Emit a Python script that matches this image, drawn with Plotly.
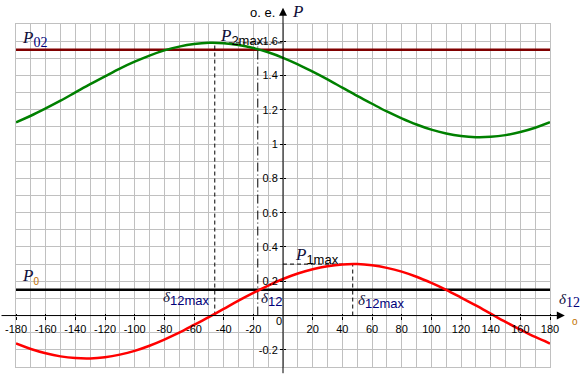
import plotly.graph_objects as go

# ---------------- data ----------------
delta = list(range(-180, 181, 10))
p1 = [-0.163, -0.195, -0.220, -0.238, -0.248, -0.250, -0.243, -0.228, -0.206, -0.176,
      -0.140, -0.100, -0.055, -0.009, 0.039, 0.087, 0.132, 0.175, 0.213, 0.245,
      0.270, 0.288, 0.298, 0.300, 0.293, 0.278, 0.256, 0.226, 0.190, 0.150,
      0.105, 0.059, 0.011, -0.037, -0.082, -0.125, -0.163]
p2 = [1.127, 1.165, 1.208, 1.253, 1.301, 1.349, 1.395, 1.440, 1.480, 1.516,
      1.546, 1.568, 1.583, 1.590, 1.588, 1.578, 1.560, 1.535, 1.503, 1.465,
      1.422, 1.377, 1.329, 1.281, 1.235, 1.190, 1.150, 1.114, 1.084, 1.062,
      1.047, 1.040, 1.042, 1.052, 1.070, 1.095, 1.127]
p0 = 0.15
p02 = 1.55
p1max = 0.30
d1max = 47
p2max = 1.59
d2max = -46
d12 = -17

x_ticks = [-180, -160, -140, -120, -100, -80, -60, -40, -20, 20, 40, 60, 80, 100, 120, 140, 160, 180]
x_tick_text = ["-180", "-160", "-140", "-120", "-100", "-80", "-60", "-40", "-20",
               "20", "40", "60", "80", "100", "120", "140", "160", "180"]
y_ticks = [-0.2, 0.2, 0.4, 0.6, 0.8, 1.0, 1.2, 1.4, 1.6]
y_tick_text = ["-0.2", "0.2", "0.4", "0.6", "0.8", "1", "1.2", "1.4", "1.6"]

X_RANGE = [-180, 180]
Y_RANGE = [-0.3, 1.7]

# ---------------- styling ----------------
W, H = 581, 375
ML, MR, MT, MB = 16, 31, 24, 8
SERIF = "Liberation Serif"
SANS = "Liberation Sans"
NAVY = "#10103a"
SUBBLUE = "#00007a"


def xp(v):
    return (v - X_RANGE[0]) / (X_RANGE[1] - X_RANGE[0])


def yp(v):
    return (v - Y_RANGE[0]) / (Y_RANGE[1] - Y_RANGE[0])


fig = go.Figure()

# horizontal levels
fig.add_trace(go.Scatter(x=X_RANGE, y=[p02, p02], mode="lines",
                         line=dict(color="#800000", width=2.5)))
fig.add_trace(go.Scatter(x=X_RANGE, y=[p0, p0], mode="lines",
                         line=dict(color="black", width=2.5)))

# dashed helper lines
dash = "4px,3px"
fig.add_trace(go.Scatter(x=[d2max, 0], y=[p2max, p2max], mode="lines",
                         line=dict(color="black", width=1, dash=dash)))
fig.add_trace(go.Scatter(x=[d2max, d2max], y=[0, p2max], mode="lines",
                         line=dict(color="black", width=1, dash=dash)))
fig.add_trace(go.Scatter(x=[0, d1max], y=[p1max, p1max], mode="lines",
                         line=dict(color="black", width=1, dash=dash)))
fig.add_trace(go.Scatter(x=[d1max, d1max], y=[0, p1max], mode="lines",
                         line=dict(color="black", width=1, dash=dash)))
fig.add_trace(go.Scatter(x=[d12, d12], y=[0, p2max], mode="lines",
                         line=dict(color="black", width=1, dash="9px,3px,1px,3px")))

# curves
fig.add_trace(go.Scatter(x=delta, y=p2, mode="lines",
                         line=dict(color="#008000", width=2.5, shape="spline")))
fig.add_trace(go.Scatter(x=delta, y=p1, mode="lines",
                         line=dict(color="#ff0000", width=2.5, shape="spline")))

# invisible carriers so the origin axes get drawn
fig.add_trace(go.Scatter(x=[0], y=[0], xaxis="x2", yaxis="y2", mode="markers",
                         marker=dict(opacity=0), showlegend=False))
fig.add_trace(go.Scatter(x=[0], y=[0], xaxis="x3", yaxis="y3", mode="markers",
                         marker=dict(opacity=0), showlegend=False))

grid = "#c0c0c0"
common = dict(showgrid=False, zeroline=False, showline=False, automargin=False,
              ticks="outside", ticklen=3, tickcolor="black", tickwidth=1)
fig.update_layout(
    width=W, height=H,
    margin=dict(l=ML, r=MR, t=MT, b=MB, pad=0),
    paper_bgcolor="white", plot_bgcolor="white",
    showlegend=False, hovermode=False,
    font=dict(family=SANS, size=11, color="black"),
    xaxis=dict(range=X_RANGE, dtick=10, tick0=0, showgrid=True, gridcolor=grid, gridwidth=1,
               zeroline=False, showticklabels=False, ticks="", automargin=False,
               showline=True, mirror=True, linecolor=grid, linewidth=1),
    yaxis=dict(range=Y_RANGE, dtick=0.1, tick0=0, showgrid=True, gridcolor=grid, gridwidth=1,
               zeroline=False, showticklabels=False, ticks="", automargin=False,
               showline=True, mirror=True, linecolor=grid, linewidth=1),
    xaxis2=dict(common, overlaying="x", anchor="free", position=yp(0), side="bottom",
                range=X_RANGE, tickmode="array", tickvals=x_ticks, ticktext=x_tick_text,
                tickfont=dict(family=SANS, size=11, color="black")),
    yaxis2=dict(common, overlaying="y", anchor="free", position=xp(0), side="left",
                range=Y_RANGE, tickmode="array", tickvals=y_ticks, ticktext=y_tick_text,
                tickfont=dict(family=SANS, size=11, color="black")),
    xaxis3=dict(common, overlaying="x", anchor="free", position=yp(0), side="top",
                range=X_RANGE, tickmode="array", tickvals=x_ticks, showticklabels=False),
    yaxis3=dict(common, overlaying="y", anchor="free", position=xp(0), side="right",
                range=Y_RANGE, tickmode="array", tickvals=y_ticks, showticklabels=False),
)
fig.update_layout(xaxis3=dict(ticklen=2), yaxis3=dict(ticklen=2))

ann = []
# axis arrows
ann.append(dict(xref="x", yref="paper", x=0, y=yp(1.795), ax=0, ay=367, axref="pixel", ayref="pixel",
                showarrow=True, arrowhead=2, arrowsize=1.6, arrowwidth=1, arrowcolor="black", text="",
                standoff=0))
ann.append(dict(xref="paper", yref="y", x=xp(190), y=0, ax=-565, ay=0, axref="pixel", ayref="pixel",
                showarrow=True, arrowhead=2, arrowsize=1.6, arrowwidth=1, arrowcolor="black", text="",
                standoff=0))


def label(x, y, text, xanchor="left", size=17):
    ann.append(dict(xref="paper", yref="paper", x=xp(x), y=yp(y), text=text, showarrow=False,
                    xanchor=xanchor, yanchor="middle",
                    font=dict(family=SERIF, size=size, color=NAVY)))


def sub(t, color=SUBBLUE, fam=SANS, size=13):
    return (f"<sub><span style='font-family:{fam};font-size:{size}px;font-style:normal;"
            f"color:{color}'>{t}</span></sub>")


label(-177, 1.615, "<i>P</i>" + sub("02", color=SUBBLUE, fam=SERIF, size=14))
label(-177, 0.225, "<i>P</i>" + sub("0", color="#c07000", size=10))
label(-43.5, 1.625, "<i>P</i>" + sub("2max", color="black"))
label(6.5, 0.35, "<i>P</i>" + sub("1max", color="black"))
label(-82, 0.10, "<i>δ</i>" + sub("12max"), size=15)
label(-16.5, 0.095, "<i>δ</i>" + sub("12"), size=15)
label(49.5, 0.08, "<i>δ</i>" + sub("12max"), size=15)
label(184.5, 0.085, "<i>δ</i>" + sub("12", fam=SERIF, size=14), size=15)
label(-4, 1.765, "o. e.", xanchor="right", size=13)
ann[-1]["font"] = dict(family=SANS, size=13, color="black")
label(5, 1.77, "<i>P</i>", size=17)
label(197, -0.035, "o", xanchor="center", size=10)
ann[-1]["font"] = dict(family=SANS, size=10, color="#c07000")
label(-3, -0.03, "0", xanchor="center", size=11)
ann[-1]["font"] = dict(family=SANS, size=11, color="black")

fig.update_layout(annotations=ann)

fig.write_html("out.html", config={"displayModeBar": False, "staticPlot": True},
               post_script="document.body.style.margin='0px';")
